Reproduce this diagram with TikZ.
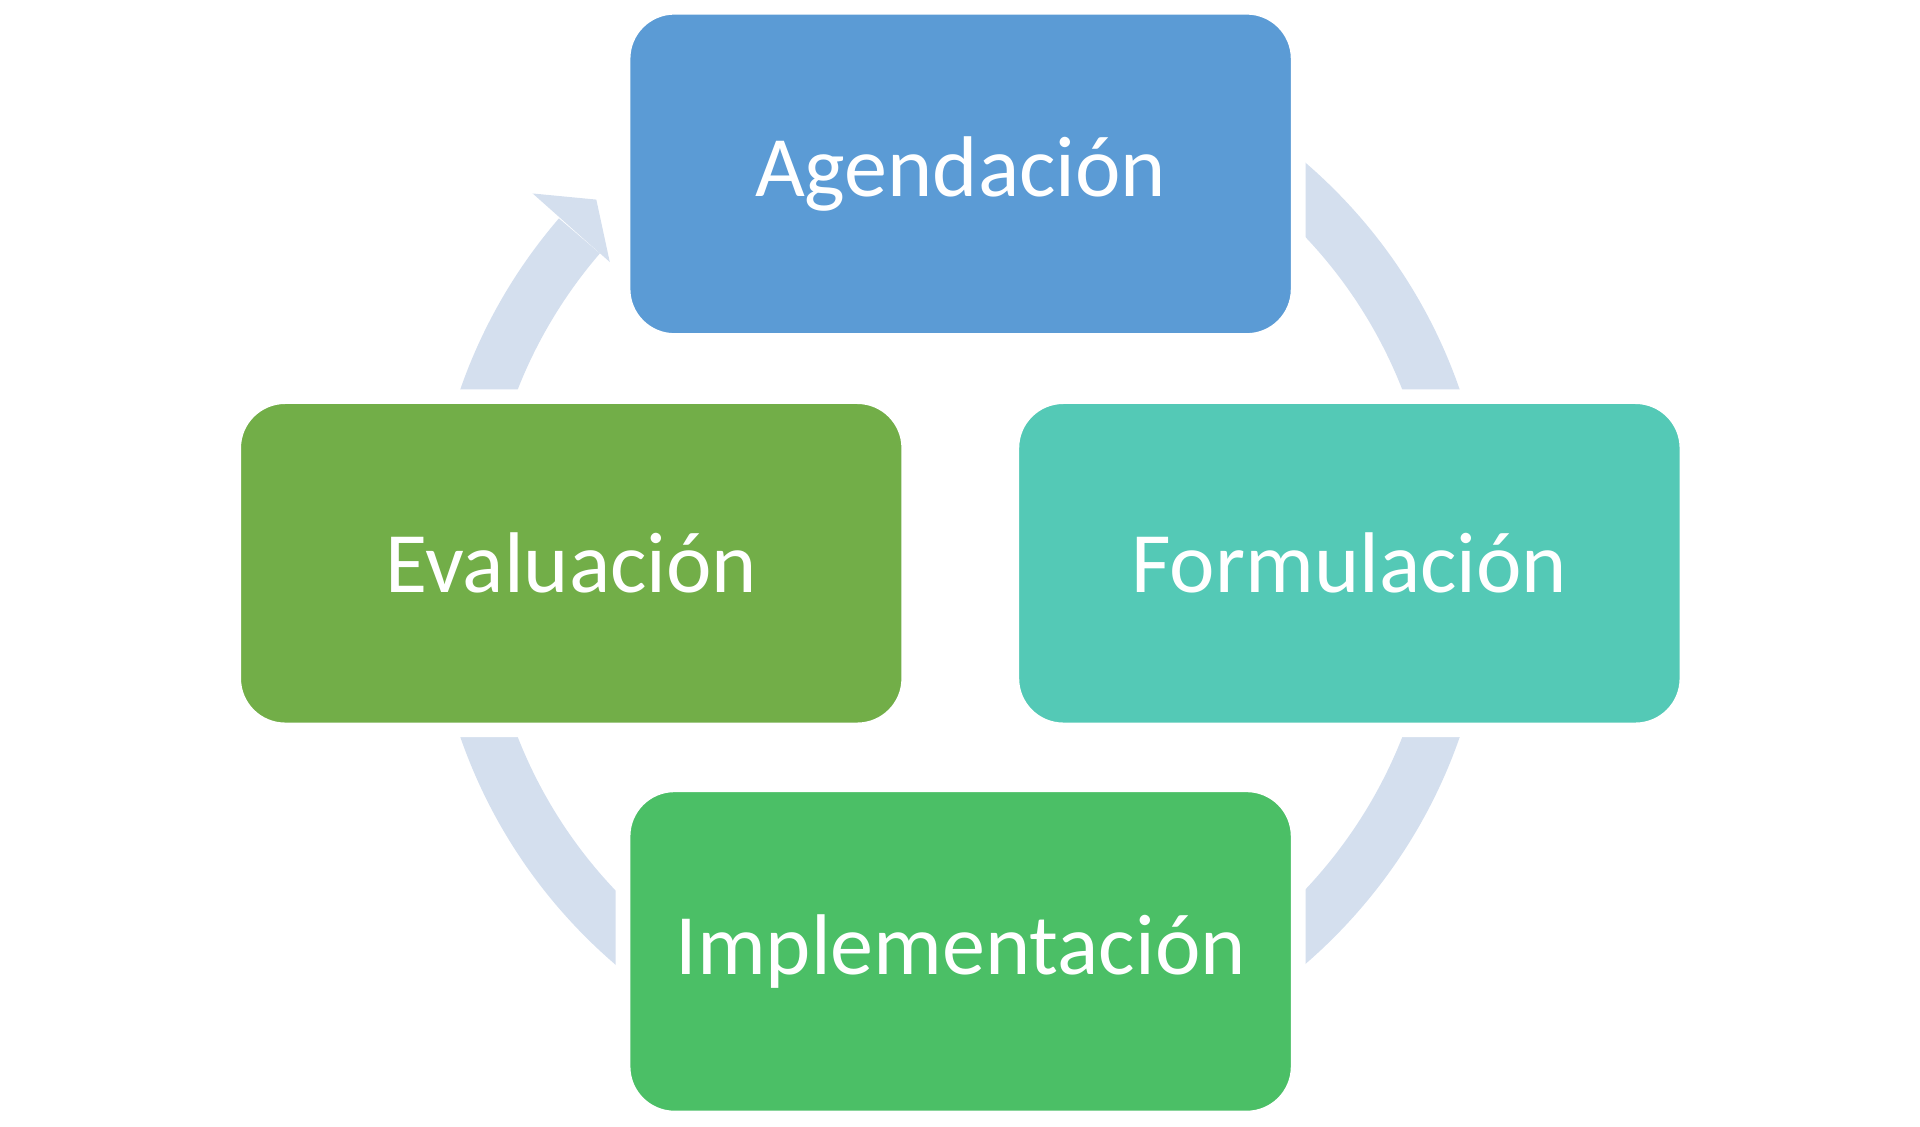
\documentclass[tikz,border=0pt]{standalone}
\usepackage{fontspec}
\setmainfont{Carlito}
\definecolor{cblue}{HTML}{5B9BD5}
\definecolor{cteal}{HTML}{54C9B6}
\definecolor{colive}{HTML}{72AE48}
\definecolor{cgreen}{HTML}{4BBF66}
\definecolor{cring}{HTML}{D4DFEE}
\begin{document}
\begin{tikzpicture}[x=0.01cm,y=0.01cm,
  stage/.style={rectangle,rounded corners=0.42cm,minimum width=5.51cm,minimum height=2.72cm,
    draw=white,line width=0.12cm,text=white,font=\fontsize{20}{24}\selectfont}]
\useasboundingbox (0,0) rectangle (1568,920);
\coordinate (c) at (784,460);
\draw[cring,line width=0.44cm] ([shift={(139.3:410)}]c) arc[start angle=139.3,end angle=460,radius=410];
\fill[cring] (435,762) -- (487,757) -- (498,706) -- cycle;
\node[stage,fill=cblue] (a) at (784.5,778) {Agendación};
\node[stage,fill=cteal] (f) at (1102,460) {Formulación};
\node[stage,fill=colive] (e) at (466.5,460) {Evaluación};
\node[stage,fill=cgreen] (i) at (784.5,143) {Implementación};
\end{tikzpicture}
\end{document}
